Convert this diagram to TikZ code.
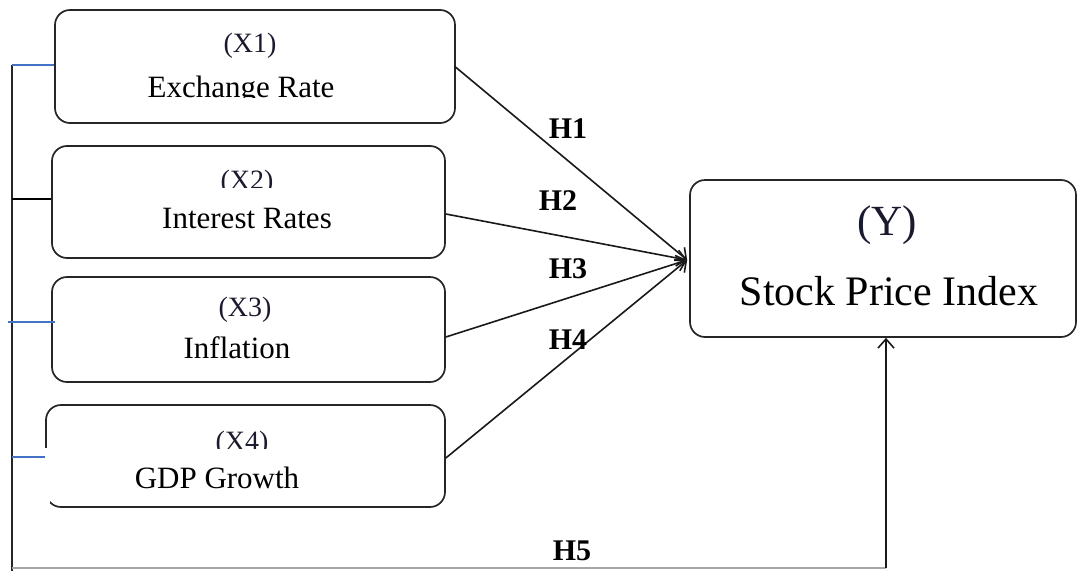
\documentclass[tikz,border=0pt]{standalone}
\usepackage{fontspec}
\setmainfont{Liberation Serif}
\usetikzlibrary{arrows.meta}
\definecolor{tickblue}{HTML}{4472C4}
\definecolor{inkc}{HTML}{1A1A2E}
\begin{document}
\begin{tikzpicture}[x=1pt,y=-1pt,
  box/.style={draw=black!85, line width=1.7pt, rounded corners=15pt, inner sep=0pt},
  lab/.style={inner sep=0pt, anchor=base, font=\fontsize{31}{33}\selectfont},
  vlab/.style={inner sep=0pt, anchor=base, text=inkc, font=\fontsize{28}{30}\selectfont},
  hlab/.style={inner sep=0pt, anchor=base, font=\fontsize{30}{32}\selectfont\bfseries},
  conn/.style={line width=1.6pt, black!90, -{Straight Barb[length=9pt,width=16pt,line width=1.6pt]}},
  tick/.style={line width=1.4pt}]
\useasboundingbox (0,0) rectangle (1078,570);

% boxes
\node[box, minimum width=400pt, minimum height=113pt] (x1) at (255,66.5) {};
\node[box, minimum width=393pt, minimum height=112pt] (x2) at (248.5,202) {};
\node[box, minimum width=393pt, minimum height=105pt] (x3) at (248.5,329.5) {};
\node[box, minimum width=399pt, minimum height=102pt] (x4) at (245.5,456) {};
\fill[white] (43,448) rectangle (50,503);
\node[box, minimum width=386pt, minimum height=157pt] (y) at (883,258.5) {};

% texts
\node[vlab] (t1a) at (250,52.7) {(X1)};
\begin{scope}
  \clip (60,0) rectangle (450,97.5);
  \node[lab] (t1b) at (241,97) {Exchange Rate};
\end{scope}
\begin{scope}
  \clip (60,150) rectangle (440,187);
  \node[vlab] (t2a) at (247,189.5) {(X2)};
\end{scope}
\node[lab] (t2b) at (247,228) {Interest Rates};
\node[vlab] (t3a) at (245,316.7) {(X3)};
\node[lab] (t3b) at (237,358) {Inflation};
\begin{scope}
  \clip (60,410) rectangle (440,448);
  \node[vlab] (t4a) at (242,450) {(X4)};
\end{scope}
\node[lab] (t4b) at (217,488) {GDP Growth};
\node[inner sep=0pt, anchor=base, text=inkc, font=\fontsize{43}{45}\selectfont] (ya) at (887,235) {(Y)};
\node[inner sep=0pt, anchor=base, font=\fontsize{42}{44}\selectfont] (yb) at (889,305) {Stock Price Index};

% hypothesis arrows
\coordinate (tip) at ([xshift=-2pt,yshift=-1.5pt]y.west);
\draw[conn] ([xshift=-1pt]x1.east) -- (tip);
\draw[conn] ([yshift=-12pt]x2.east) -- (tip);
\draw[conn] ([yshift=-7.5pt]x3.east) -- (tip);
\draw[conn] ([yshift=-2pt]x4.east) -- (tip);

\node[hlab] (h1) at (568,138) {H1};
\node[hlab] (h2) at (558,210) {H2};
\node[hlab] (h3) at (568,278) {H3};
\node[hlab] (h4) at (568,349) {H4};
\node[hlab] (h5) at (572,560) {H5};

% bus on the left
\coordinate (b1) at (12,65);
\coordinate (b2) at (12,199);
\coordinate (b3) at (12,322);
\coordinate (b4) at (12,457);
\coordinate (bl) at (12,568);
\coordinate (br) at (886,568);
\draw[line width=1.7pt, black!85] (b1) -- (12,571);
\draw[tick, tickblue] (b1) -- (b1 -| x1.west);
\draw[tick, black] (b2) -- (b2 -| x2.west);
\draw[tick, tickblue] ([xshift=-4pt]b3) -- ([xshift=4pt]b3 -| x3.west);
\draw[tick, tickblue] (b4) -- (b4 -| x4.west);
\draw[line width=1.2pt, black!35] (bl) -- (br);
\draw[conn] (br) -- (br |- y.south);
\end{tikzpicture}
\end{document}
